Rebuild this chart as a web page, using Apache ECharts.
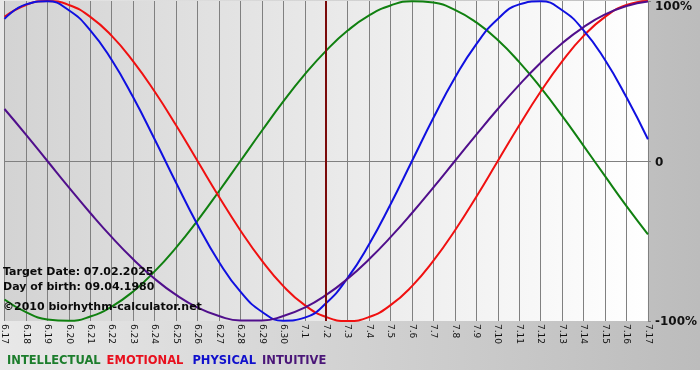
<!DOCTYPE html>
<html>
<head>
<meta charset="utf-8">
<script src="https://cdn.jsdelivr.net/npm/echarts@6/dist/echarts.min.js"></script>
<style>
html,body{margin:0;padding:0;background:#fff;}
#chart{width:700px;height:380px;}
</style>
</head>
<body>
<div id="chart"></div>
<script>
const dates = ['6.17','6.18','6.19','6.20','6.21','6.22','6.23','6.24','6.25','6.26','6.27','6.28','6.29','6.30',
  '7.1','7.2','7.3','7.4','7.5','7.6','7.7','7.8','7.9','7.10','7.11','7.12','7.13','7.14','7.15','7.16','7.17'];
const targetDate = '7.2';
const intellectual = [-86.6,-94.5,-99.0,-99.9,-97.2,-91.0,-81.5,-69.0,-54.1,-37.2,-18.9,0,18.9,37.2,54.1,69.0,81.5,91.0,97.2,99.9,99.0,94.5,86.6,75.6,61.8,45.8,28.2,9.5,-9.5,-28.2,-45.8];
const emotional = [90.1,97.5,100,97.5,90.1,78.2,62.3,43.4,22.3,0,-22.3,-43.4,-62.3,-78.2,-90.1,-97.5,-100,-97.5,-90.1,-78.2,-62.3,-43.4,-22.3,0,22.3,43.4,62.3,78.2,90.1,97.5,100];
const physical = [88.8,97.9,99.8,94.2,81.7,63.1,39.8,13.6,-13.6,-39.8,-63.1,-81.7,-94.2,-99.8,-97.9,-88.8,-73.1,-52.0,-27.0,0,27.0,52.0,73.1,88.8,97.9,99.8,94.2,81.7,63.1,39.8,13.6];
const intuitive = [32.5,16.5,0,-16.5,-32.5,-47.6,-61.4,-73.6,-83.7,-91.6,-96.9,-99.7,-99.7,-96.9,-91.6,-83.7,-73.6,-61.4,-47.6,-32.5,-16.5,0,16.5,32.5,47.6,61.4,73.6,83.7,91.6,96.9,99.7];
const yTicks = {'100':'100%','0':'0','-100':'-100%'};
const infoLines = ['Target Date: 07.02.2025','Day of birth: 09.04.1980','©2010 biorhythm-calculator.net'];

const chart = echarts.init(document.getElementById('chart'), null, {renderer:'canvas'});
const FONT = '"DejaVu Sans", Verdana, sans-serif';
function mkSeries(name, data, color, extra){
  return Object.assign({
    name, type:'line', data, smooth:0.5, showSymbol:false, symbol:'none',
    lineStyle:{color, width:2}, itemStyle:{color}, silent:true, animation:false
  }, extra||{});
}
const option = {
  animation:false,
  backgroundColor: new echarts.graphic.LinearGradient(0,0,1,0,[{offset:0,color:'#e8e8e8'},{offset:1,color:'#bcbcbc'}]),
  grid:{left:0,right:50,top:1,bottom:59,show:true,borderWidth:0,
    backgroundColor:new echarts.graphic.LinearGradient(0,0,1,0,[{offset:0,color:'#d3d3d3'},{offset:1,color:'#ffffff'}])},
  legend:{
    left:2, top:355, padding:0, icon:'none', itemWidth:0, itemHeight:0, itemGap:1,
    selectedMode:false,
    textStyle:{fontFamily:FONT, fontSize:11.5, fontWeight:'bold'},
    data:[
      {name:'INTELLECTUAL', textStyle:{color:'#1c7d2c'}},
      {name:'EMOTIONAL', textStyle:{color:'#e8101e'}},
      {name:'PHYSICAL', textStyle:{color:'#1010cc', padding:[0,0,0,3]}},
      {name:'INTUITIVE', textStyle:{color:'#4a1678'}}
    ]
  },
  xAxis:{
    type:'category', data:dates, boundaryGap:false,
    axisLine:{show:true, lineStyle:{color:'#808080', width:1}},
    axisTick:{show:true, length:4, lineStyle:{color:'#808080'}},
    splitLine:{show:true, lineStyle:{color:'#808080', width:1}},
    axisLabel:{rotate:-90, fontSize:9, fontFamily:FONT, color:'#111', margin:3, interval:0}
  },
  yAxis:{
    type:'value', position:'right', min:-100, max:100, interval:100,
    axisLine:{show:false},
    axisTick:{show:true, length:3, lineStyle:{color:'#808080'}},
    splitLine:{show:true, lineStyle:{color:['transparent','#808080','transparent'], width:1}},
    axisLabel:{
      margin:7, fontFamily:FONT, fontSize:12, fontWeight:'bold', color:'#111',
      formatter:function(v){ const t = yTicks[String(v)]; return v===100 ? '{top|'+t+'}' : (v===0 ? '{mid|'+t+'}' : '{bot|'+t+'}'); },
      rich:{
        top:{fontFamily:FONT, fontSize:12, fontWeight:'bold', color:'#111', padding:[12,0,0,0]},
        mid:{fontFamily:FONT, fontSize:12, fontWeight:'bold', color:'#111', padding:[3,0,0,0]},
        bot:{fontFamily:FONT, fontSize:12, fontWeight:'bold', color:'#111', padding:[2,0,0,0]}
      }
    }
  },
  graphic:[
    {type:'rect', left:0, top:370, shape:{width:700, height:10}, style:{fill:'#ffffff'}, z:-1, silent:true},
    {type:'text', left:3, top:267, style:{text:infoLines[0], font:'bold 11px '+FONT, fill:'#0a0a0a'}, z:10},
    {type:'text', left:3, top:282, style:{text:infoLines[1], font:'bold 11px '+FONT, fill:'#0a0a0a'}, z:10},
    {type:'text', left:3, top:302, style:{text:infoLines[2], font:'bold 11px '+FONT, fill:'#0a0a0a'}, z:10}
  ],
  series:[
    mkSeries('INTELLECTUAL', intellectual, '#108010'),
    mkSeries('EMOTIONAL', emotional, '#f01010'),
    mkSeries('PHYSICAL', physical, '#1010e0'),
    mkSeries('INTUITIVE', intuitive, '#500f8c', {
      markLine:{silent:true, symbol:'none', label:{show:false},
        lineStyle:{color:'#7a0a0a', width:2, type:'solid'},
        data:[{xAxis:targetDate}]}
    })
  ]
};
chart.setOption(option);
</script>
</body>
</html>
